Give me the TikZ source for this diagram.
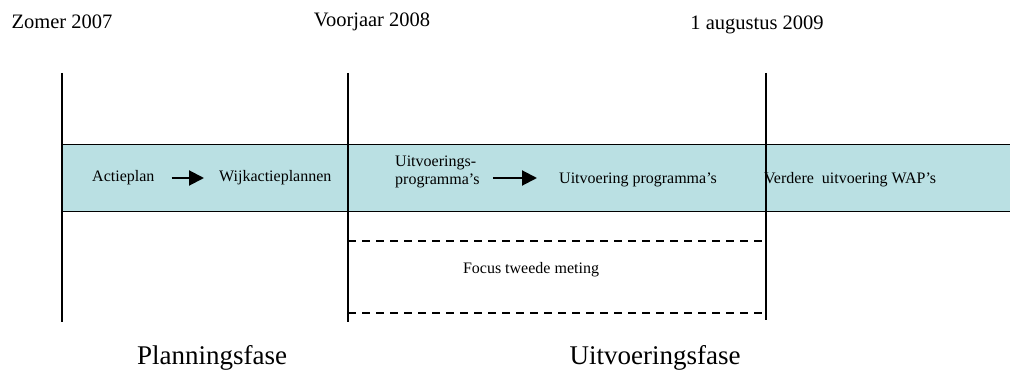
\documentclass[tikz,border=0pt]{standalone}
\usepackage{fontspec}
\setmainfont{Liberation Serif}
\usetikzlibrary{arrows.meta}
\definecolor{bandblue}{RGB}{186,224,227}
\begin{document}
\begin{tikzpicture}[line join=round,>={Triangle[length=15pt,width=15pt]},x=1pt,y=-1pt,
		datum/.style={font=\fontsize{20.5}{24}\selectfont,inner sep=0pt},
		fase/.style={font=\fontsize{27}{32}\selectfont,inner sep=0pt},
		klein/.style={font=\fontsize{16}{18}\selectfont,inner sep=0pt}]
		\useasboundingbox (0,0) rectangle (1010,374);
		\fill[bandblue] (62,145) rectangle (1010,212);
		\draw[line width=1pt] (1010,145)--(62,145) (62,212)--(1010,212);
		\foreach \xx/\yy in {62/322,348/322,766/320}
			\draw[line width=2pt] (\xx,73)--(\xx,\yy);
		\draw[line width=1.3pt,dash pattern=on 8pt off 6pt] (348,241)--(766,241) (348,313)--(766,313);
		\node[datum] (zomer) at (62,22) {Zomer 2007};
		\node[datum] (voorjaar) at (372,22) {Voorjaar 2008};
		\node[datum] (augustus) at (757,25) {1 augustus 2009};
		\node[klein,anchor=west] (actieplan) at (92,178) {Actieplan};
		\node[klein,anchor=west] (wijk) at (219,178) {Wijkactieplannen};
		\node[klein,anchor=west,align=left] (uitvprog) at (395,172) {Uitvoerings-\\programma's};
		\node[klein,anchor=west] (uitvoering) at (559,180) {Uitvoering programma's};
		\node[klein,anchor=west] (verdere) at (764,180) {Verdere\ \ uitvoering WAP's};
		\node[klein] (focus) at (531,270) {Focus tweede meting};
		\node[fase] (planning) at (212,358) {Planningsfase};
		\node[fase] (uitvfase) at (655,358) {Uitvoeringsfase};
		\draw[->,line width=2pt,shorten <=17pt,shorten >=15pt] (actieplan.east)--(wijk.west);
		\draw[->,line width=2pt,shorten <=13pt,shorten >=22pt] (uitvprog.east|-actieplan.east)--(uitvoering.west|-actieplan.east);
	\end{tikzpicture}
\end{document}
